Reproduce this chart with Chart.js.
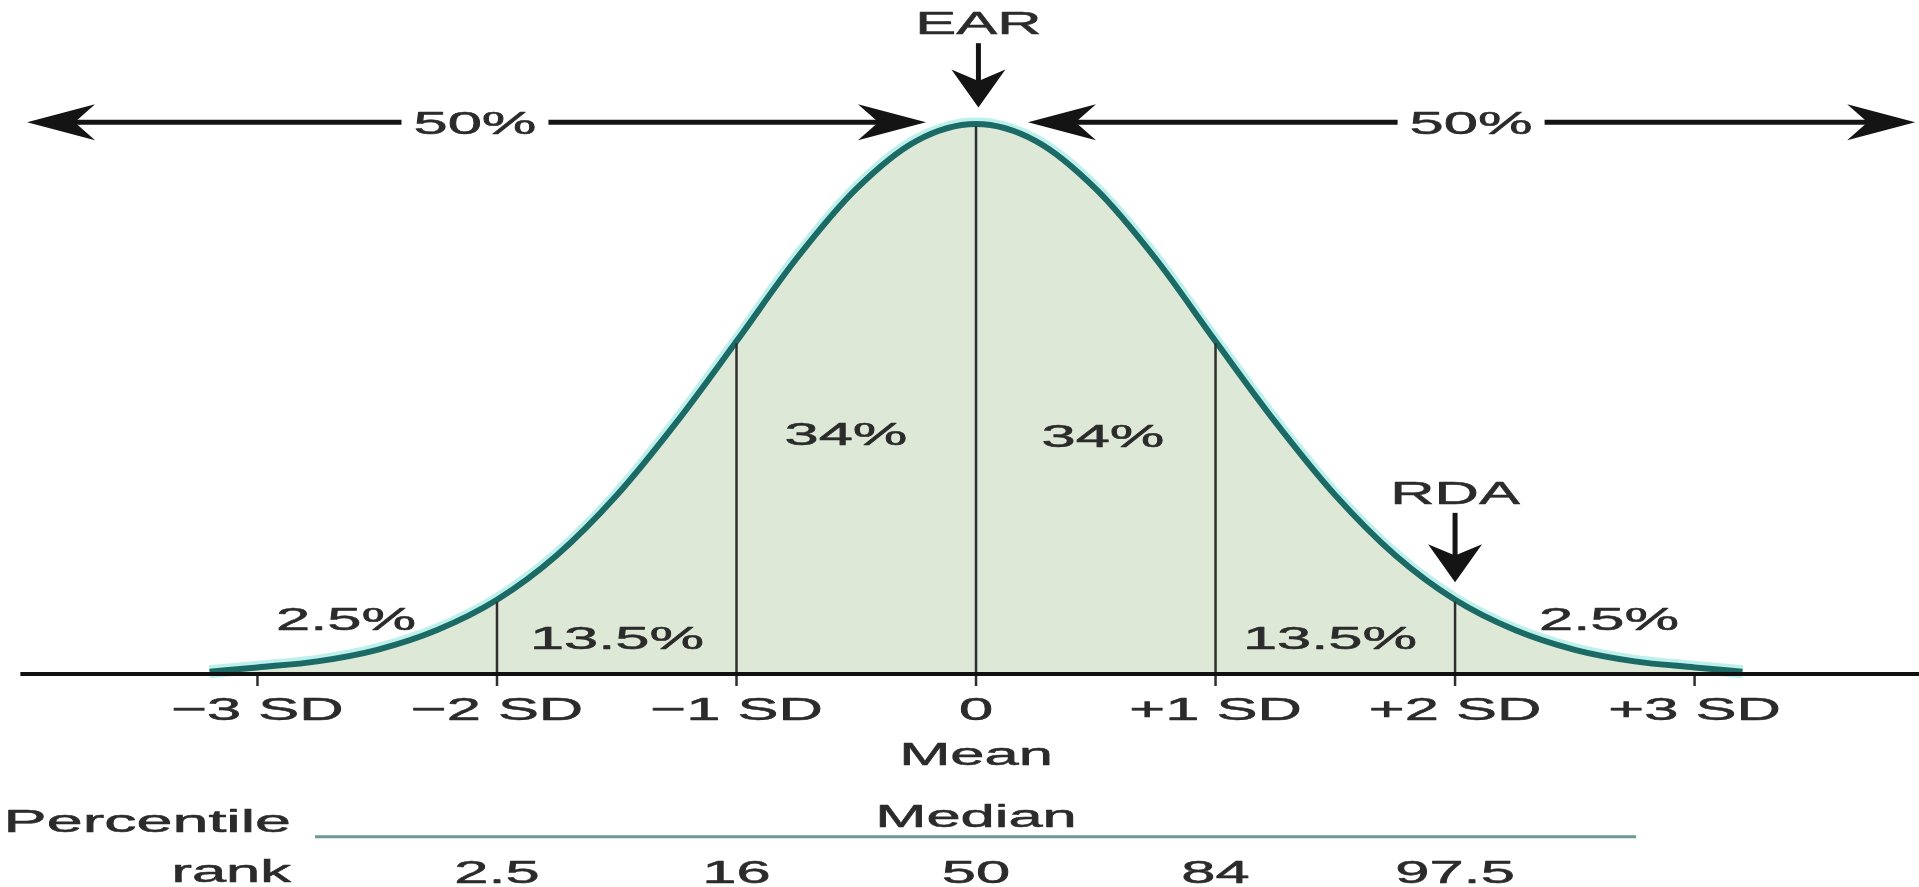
<!DOCTYPE html>
<html>
<head>
<meta charset="utf-8">
<script src="https://cdn.jsdelivr.net/npm/chart.js@4"></script>
<style>
  html, body { margin: 0; padding: 0; background: #fff; }
  #wrap { width: 1919px; height: 887px; }
</style>
</head>
<body>
<div id="wrap"><canvas id="chart"></canvas></div>
<script>
// curve: height of the bell relative to its peak, at each SD step
const sdPoints = [-3.2, -3, -2.75, -2.5, -2.25, -2, -1.75, -1.5, -1.25, -1, -0.75, -0.5, -0.25, 0,
                  0.25, 0.5, 0.75, 1, 1.25, 1.5, 1.75, 2, 2.25, 2.5, 2.75, 3, 3.2];
const density = [0.004, 0.012, 0.023, 0.044, 0.08, 0.135, 0.216, 0.325, 0.458, 0.605, 0.755, 0.882, 0.969, 1.0,
                 0.969, 0.882, 0.755, 0.605, 0.458, 0.325, 0.216, 0.135, 0.08, 0.044, 0.023, 0.012, 0.004];

const tickValues = [-3, -2, -1, 0, 1, 2, 3];
const tickLabels = ['\u22123 SD', '\u22122 SD', '\u22121 SD', '0', '+1 SD', '+2 SD', '+3 SD'];
const dividerValues = [-2, -1, 0, 1, 2];
const areaLabels = ['2.5%', '13.5%', '34%', '34%', '13.5%', '2.5%'];
const halfLabels = ['50%', '50%'];
const percentileRanks = ['2.5', '16', '50', '84', '97.5'];

// where things sit, in chart units (x = SD, y = height relative to peak)
const layout = {
  areaPos: [[-2.63, 0.102], [-1.499, 0.067], [-0.543, 0.437], [0.53, 0.435], [1.478, 0.067], [2.643, 0.102]],
  halfPos: [-2.092, 2.067],
  arrowY: 1.003,
  arrows: [[-3.962, -0.209], [0.217, 3.921]],
  ear: { x: 0.01, text: 1.185, top: 1.147, tip: 1.03 },
  rda: { x: 2, text: 0.331, top: 0.293, tip: 0.167 },
  baselineFrom: -3.99,
  tickLabelY: -0.062,
  meanY: -0.144,
  medianY: -0.257,
  pctLine: { y: -0.296, from: -2.76, to: 2.756 },
  pctValueY: -0.358,
  pctTitle: { x: -4.06, y: -0.266 },
  rank: { x: -2.86, y: -0.356 }
};

const SX = 1.92;          // the source picture is stretched sideways
const FONT = '32px "Liberation Sans", Arial, sans-serif';
const INK = '#2b2b2b';

const points = sdPoints.map((v, i) => ({ x: v, y: density[i] }));

function heightAt(v) {
  return density[sdPoints.indexOf(v)];
}

function stretchText(ctx, txt, px, py, align, bg, sx) {
  const k = sx || SX;
  ctx.save();
  ctx.font = FONT;
  const w = ctx.measureText(txt).width * k;
  if (bg) {
    let left = px - w / 2;
    if (align === 'left') left = px;
    if (align === 'right') left = px - w;
    ctx.fillStyle = '#fff';
    ctx.fillRect(left - 12, py - 20, w + 24, 40);
  }
  ctx.translate(px, py + 3);
  ctx.scale(k, 1);
  ctx.fillStyle = INK;
  ctx.strokeStyle = INK;
  ctx.lineWidth = 0.55;
  ctx.lineJoin = 'round';
  ctx.textAlign = align;
  ctx.textBaseline = 'middle';
  ctx.fillText(txt, 0, 0);
  ctx.strokeText(txt, 0, 0);
  ctx.restore();
}

// arrow head with swept-back barbs, pointing along (dx, dy)
function arrowHead(ctx, tx, ty, dx, dy, len, half) {
  const nx = -dy, ny = dx;
  ctx.beginPath();
  ctx.moveTo(tx, ty);
  ctx.lineTo(tx - dx * len + nx * half, ty - dy * len + ny * half);
  ctx.lineTo(tx - dx * len * 0.7, ty - dy * len * 0.7);
  ctx.lineTo(tx - dx * len - nx * half, ty - dy * len - ny * half);
  ctx.closePath();
  ctx.fill();
}

const overlay = {
  id: 'overlay',
  afterDatasetsDraw(chart) {
    const { ctx, scales: { x, y } } = chart;
    const X = v => x.getPixelForValue(v);
    const Y = v => y.getPixelForValue(v);
    ctx.save();

    // dividers at each SD up to the curve
    ctx.strokeStyle = '#2f2f2f';
    ctx.lineWidth = 2.5;
    dividerValues.forEach(v => {
      ctx.beginPath();
      ctx.moveTo(X(v), Y(0) + 12);
      ctx.lineTo(X(v), Y(heightAt(v)) + 2);
      ctx.stroke();
    });
    [-3, 3].forEach(v => {
      ctx.beginPath();
      ctx.moveTo(X(v), Y(0));
      ctx.lineTo(X(v), Y(0) + 12);
      ctx.stroke();
    });

    // baseline
    ctx.strokeStyle = '#111';
    ctx.lineWidth = 4;
    ctx.beginPath();
    ctx.moveTo(X(layout.baselineFrom), Y(0));
    ctx.lineTo(chart.chartArea.right, Y(0));
    ctx.stroke();

    // 50% arrows
    ctx.fillStyle = '#141414';
    ctx.strokeStyle = '#141414';
    ctx.lineWidth = 5;
    const ay = Y(layout.arrowY);
    layout.arrows.forEach(([a, b]) => {
      ctx.beginPath();
      ctx.moveTo(X(a) + 20, ay);
      ctx.lineTo(X(b) - 20, ay);
      ctx.stroke();
      arrowHead(ctx, X(a), ay, -1, 0, 68, 18);
      arrowHead(ctx, X(b), ay, 1, 0, 68, 18);
    });
    halfLabels.forEach((t, i) => stretchText(ctx, t, X(layout.halfPos[i]), ay, 'center', true));

    // EAR and RDA pointers
    [[layout.ear, 'EAR'], [layout.rda, 'RDA']].forEach(([p, t]) => {
      const px = X(p.x);
      ctx.beginPath();
      ctx.moveTo(px, Y(p.top));
      ctx.lineTo(px, Y(p.tip) - 20);
      ctx.stroke();
      arrowHead(ctx, px, Y(p.tip), 0, 1, 38, 27);
      stretchText(ctx, t, px, Y(p.text), 'center', false);
    });

    // area percentages
    areaLabels.forEach((t, i) => {
      const [lx, ly] = layout.areaPos[i];
      stretchText(ctx, t, X(lx), Y(ly), 'center', false);
    });

    // SD tick labels
    tickValues.forEach((v, i) => stretchText(ctx, tickLabels[i], X(v), Y(layout.tickLabelY), 'center', false));
    stretchText(ctx, 'Mean', X(0), Y(layout.meanY), 'center', false);

    // percentile rank row
    stretchText(ctx, 'Median', X(0), Y(layout.medianY), 'center', false);
    ctx.strokeStyle = '#6f9896';
    ctx.lineWidth = 3;
    ctx.beginPath();
    ctx.moveTo(X(layout.pctLine.from), Y(layout.pctLine.y));
    ctx.lineTo(X(layout.pctLine.to), Y(layout.pctLine.y));
    ctx.stroke();
    dividerValues.forEach((v, i) => stretchText(ctx, percentileRanks[i], X(v), Y(layout.pctValueY), 'center', false));
    stretchText(ctx, 'Percentile', X(layout.pctTitle.x), Y(layout.pctTitle.y), 'left', false, 2.02);
    stretchText(ctx, 'rank', X(layout.rank.x), Y(layout.rank.y), 'right', false);

    ctx.restore();
  }
};

new Chart(document.getElementById('chart'), {
  type: 'line',
  data: {
    datasets: [
      {
        label: 'curve',
        data: points,
        borderColor: '#1c6a65',
        borderWidth: 6,
        backgroundColor: '#dde8d6',
        fill: 'origin',
        cubicInterpolationMode: 'monotone',
        pointRadius: 0,
        order: 1
      },
      {
        label: 'glow',
        data: points,
        borderColor: '#bcf0ec',
        borderWidth: 13,
        fill: false,
        cubicInterpolationMode: 'monotone',
        pointRadius: 0,
        order: 3
      }
    ]
  },
  options: {
    responsive: true,
    maintainAspectRatio: false,
    animation: false,
    layout: { padding: 0 },
    plugins: { legend: { display: false }, tooltip: { enabled: false } },
    scales: {
      x: { type: 'linear', min: -4.075, max: 3.937, display: false },
      y: { min: -0.3873, max: 1.2255, display: false }
    }
  },
  plugins: [overlay]
});
</script>
</body>
</html>
